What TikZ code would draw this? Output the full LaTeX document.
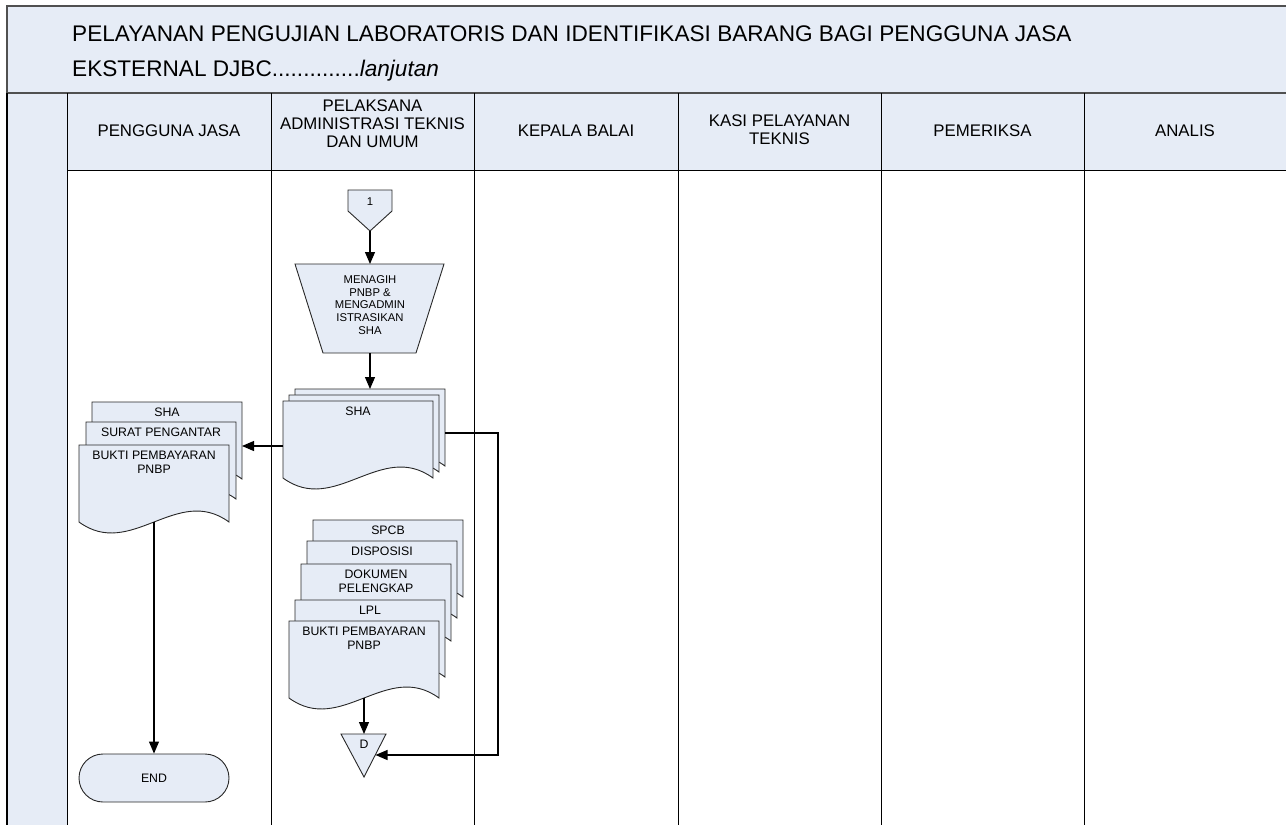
\documentclass[tikz,border=0pt]{standalone}
\usepackage{fontspec}
\setmainfont{Liberation Sans}
\usetikzlibrary{arrows.meta}

\definecolor{laneFill}{RGB}{230,236,246}
\definecolor{frameLine}{RGB}{80,80,80}
\definecolor{shapeLine}{RGB}{40,40,40}

\tikzset{
  laneline/.style={line width=1pt, draw=black},
  shapebox/.style={line width=0.9pt, draw=shapeLine, fill=laneFill},
  flow/.style={line width=1.1pt, draw=black, -{Triangle[length=12pt,width=10pt]}},
  smalltext/.style={font=\fontsize{12.3}{13.5}\selectfont, align=center, inner sep=0pt},
  steptext/.style={font=\fontsize{11.3}{12.8}\selectfont, align=center, inner sep=0pt},
  headtext/.style={font=\fontsize{16.8}{18}\selectfont, align=center, inner sep=0pt},
  titletext/.style={font=\fontsize{22.6}{26}\selectfont, anchor=base west, inner sep=0pt},
}

\newcommand{\docpage}[4]{%
  \draw[shapebox] (#2,#3) -- (#2+150,#3) -- (#2+150,#3+77)
    .. controls +(-52,-38) and +(52,38) .. (#2,#3+77) -- cycle;
  \coordinate (#1-n) at (#2+75,#3);
  \coordinate (#1-s) at (#2+75,#3+77);
  \coordinate (#1-e) at (#2+150,#3+44);
  \coordinate (#1-w) at (#2,#3+45);
  \node[smalltext, anchor=north] (#1) at (#2+75,#3+6) {#4};
}

\begin{document}
\begin{tikzpicture}[x=1pt, y=-1pt]
  \useasboundingbox (0,0) rectangle (1286,825);
  \fill[laneFill] (7,93) rectangle (1286,170);
  \fill[laneFill] (7,93) rectangle (67,825);
  \draw[line width=2pt, draw=frameLine, fill=laneFill] (1290,6) -- (7,6) -- (7,93) -- (1290,93);
  \draw[line width=2pt, draw=black] (7,93) -- (7,825);
  \foreach \x in {67,271,474,678,881,1084}
    \draw[laneline] (\x,93) -- (\x,825);
  \draw[laneline] (67,170) -- (1286,170);

  \node[titletext] (title1) at (72,41) {PELAYANAN PENGUJIAN LABORATORIS DAN IDENTIFIKASI BARANG BAGI PENGGUNA JASA};
  \node[titletext] (title2) at (72,76) {EKSTERNAL DJBC..............\textit{lanjutan}};

  \node[headtext] (hPengguna) at (169,131) {PENGGUNA JASA};
  \node[headtext] (hPelaksana) at (372.5,124) {PELAKSANA\\ADMINISTRASI TEKNIS\\DAN UMUM};
  \node[headtext] (hKepala) at (576,131) {KEPALA BALAI};
  \node[headtext] (hKasi) at (779.5,130) {KASI PELAYANAN\\TEKNIS};
  \node[headtext] (hPemeriksa) at (982.5,131) {PEMERIKSA};
  \node[headtext] (hAnalis) at (1185,131) {ANALIS};

  \draw[shapebox] (348,190) -- (392,190) -- (392,211) -- (370,231) -- (348,211) -- cycle;
  \node[steptext] (one) at (370,202) {1};
  \coordinate (one-s) at (370,231);

  \draw[shapebox] (295,264) -- (444,264) -- (416,353) -- (323,353) -- cycle;
  \node[steptext] (tagih) at (370,305) {MENAGIH\\PNBP \&\\MENGADMIN\\ISTRASIKAN\\SHA};
  \coordinate (tagih-n) at (370,264);
  \coordinate (tagih-s) at (370,353);

  \docpage{shaC}{295}{389}{}
  \docpage{shaB}{289}{395}{}
  \docpage{shaA}{283}{401}{SHA}

  \docpage{outSha}{92}{402}{SHA}
  \docpage{outSurat}{86}{422}{SURAT PENGANTAR}
  \docpage{outBukti}{79}{445}{BUKTI PEMBAYARAN\\PNBP}

  \docpage{arsSpcb}{313}{520}{SPCB}
  \docpage{arsDisposisi}{307}{541}{DISPOSISI}
  \docpage{arsDokumen}{301}{564}{DOKUMEN\\PELENGKAP}
  \docpage{arsLpl}{295}{600}{LPL}
  \docpage{arsBukti}{289}{621}{BUKTI PEMBAYARAN\\PNBP}

  \draw[shapebox] (341,734) -- (386,734) -- (364,777) -- cycle;
  \node[smalltext] (dmark) at (364,744) {D};
  \coordinate (dmark-n) at (364,734);
  \coordinate (dmark-e) at (375.5,755);
  \coordinate (loopback) at (498,755);

  \node[shapebox, rounded corners=24pt, minimum width=150pt, minimum height=48pt,
        font=\fontsize{12.3}{13.5}\selectfont] (endnode) at (154,778) {END};

  \draw[flow] (one-s) -- (tagih-n);
  \draw[flow] (tagih-s) -- (shaC-n);
  \draw[flow] (shaA-w) -- (outSha-e |- shaA-w);
  \draw[flow] (outBukti-s) -- (endnode);
  \draw[flow] (arsBukti-s) -- (dmark-n);
  \draw[flow] (shaC-e) -| (loopback) -- (dmark-e);
\end{tikzpicture}
\end{document}
